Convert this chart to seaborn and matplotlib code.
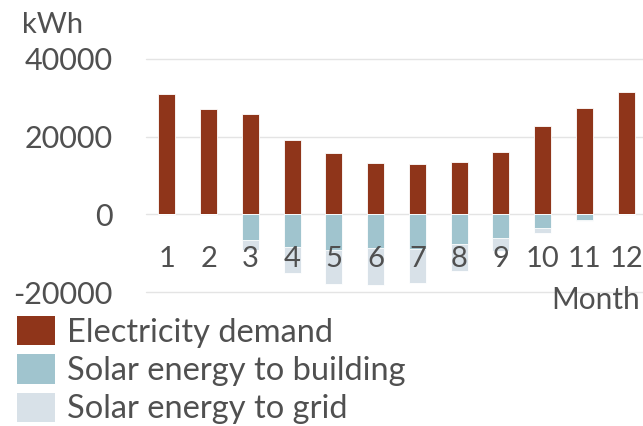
import matplotlib
matplotlib.use("Agg")
import matplotlib.pyplot as plt
import seaborn as sns
import pandas as pd
from matplotlib.patches import Patch

months = ["1", "2", "3", "4", "5", "6", "7", "8", "9", "10", "11", "12"]
electricity_demand = [31000, 27100, 25850, 19100, 15700, 13300, 13050, 13400, 16000, 22700, 27400, 31600]
solar_to_building = [0, 0, -6700, -8500, -9200, -8750, -8950, -7750, -6100, -3600, -1550, 0]
solar_to_grid = [0, 0, -2500, -6550, -8750, -9450, -8850, -6900, -3300, -1150, -100, 0]
yticks = [-20000, 0, 20000, 40000]
legend_labels = ["Electricity demand", "Solar energy to building", "Solar energy to grid"]

c_demand = "#8F351A"
c_building = "#A0C4CE"
c_grid = "#D8E1E8"
txt = "#505050"

sns.set_theme(style="white")
plt.rcParams["font.family"] = ["Lato", "DejaVu Sans"]
plt.rcParams["axes.unicode_minus"] = False

df = pd.DataFrame({
    "month": months,
    "demand": electricity_demand,
    "building": solar_to_building,
    "solar_total": [b + g for b, g in zip(solar_to_building, solar_to_grid)],
})

fig = plt.figure(figsize=(6.43, 4.26), dpi=100)
W, H = 643, 426
left, right = 146, 647
top, bottom = 59, 292
ax = fig.add_axes([left / W, 1 - bottom / H, (right - left) / W, (bottom - top) / H])

kw = dict(width=0.41, edgecolor="white", linewidth=0.6, order=months, ax=ax)
sns.barplot(data=df, x="month", y="demand", color=c_demand, saturation=1, **kw)
sns.barplot(data=df, x="month", y="solar_total", color=c_grid, saturation=1, **kw)
sns.barplot(data=df, x="month", y="building", color=c_building, saturation=1, **kw)

ax.set_ylim(-20000, 40000)
ax.set_xlim(-0.5, 11.5)
for yv in yticks:
    ax.axhline(yv, color="#E4E4E4", linewidth=1, zorder=0, clip_on=False)

for s in ax.spines.values():
    s.set_visible(False)
ax.spines["bottom"].set_position(("data", 0))
ax.set_yticks(yticks)
ax.set_yticklabels([str(v) for v in yticks])
ax.tick_params(axis="y", length=0, pad=24, labelsize=22, labelcolor=txt)
ax.tick_params(axis="x", length=0, pad=23, labelsize=21, labelcolor=txt)
ax.xaxis.set_zorder(10)
ax.set_xlabel("")
ax.set_ylabel("")

fig.text(22 / W, 1 - 33 / H, "kWh", fontsize=21, color=txt, va="baseline", ha="left")
fig.text(640 / W, 1 - 286 / H, "Month", fontsize=21.5, color=txt, va="top", ha="right")

handles = [Patch(facecolor=c, edgecolor="none") for c in (c_demand, c_building, c_grid)]
leg = fig.legend(handles, legend_labels, loc="upper left", bbox_to_anchor=(17 / W, 1 - 316 / H),
                 frameon=False, fontsize=23.5, handlelength=1.17, handleheight=1.0,
                 handletextpad=0.36, labelspacing=0.2, borderpad=0, borderaxespad=0)
for t in leg.get_texts():
    t.set_color(txt)

fig.savefig("out.png", dpi=100)
